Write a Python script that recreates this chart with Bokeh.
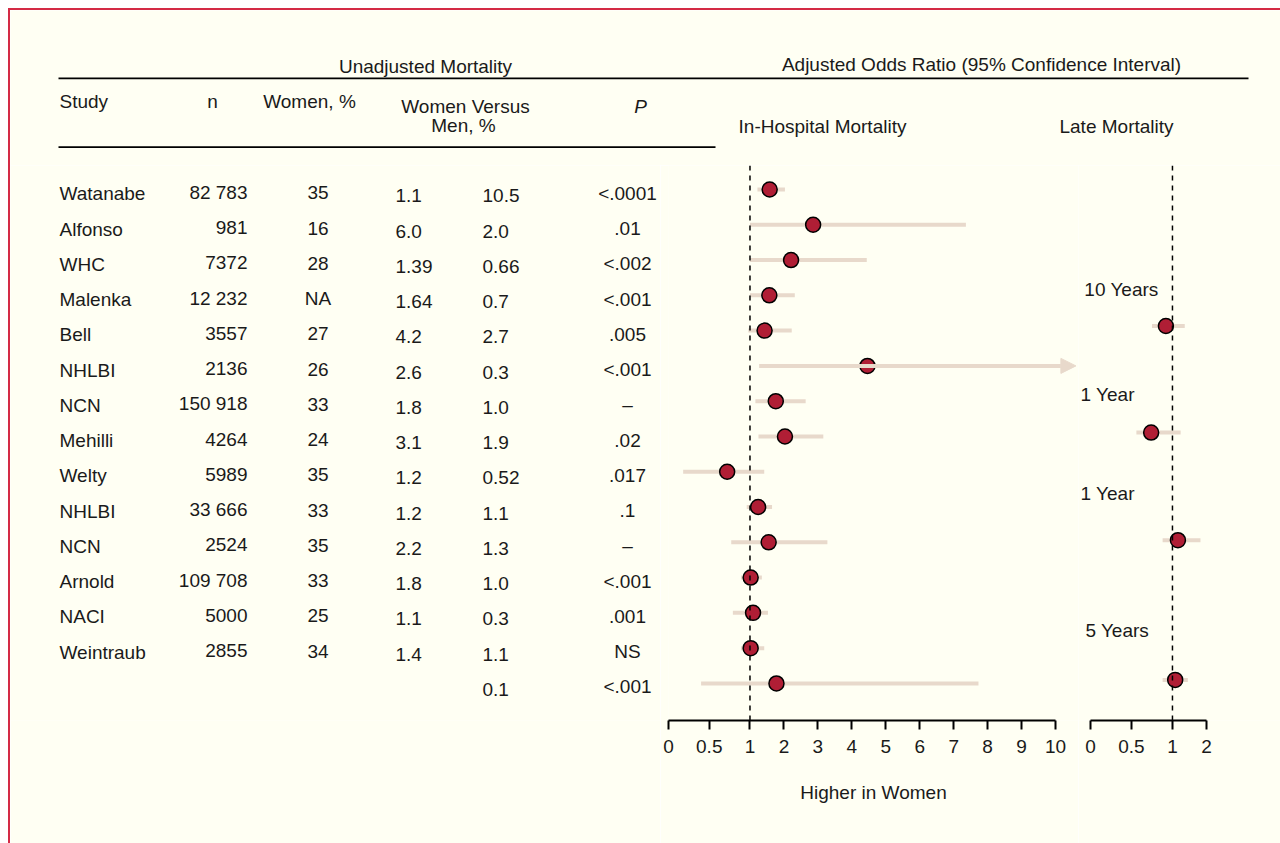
from bokeh.plotting import figure
from bokeh.layouts import column, row
from bokeh.models import (Range1d, LinearAxis, FixedTicker, Span, Arrow,
                          NormalHead, ColumnDataSource, Div)
from bokeh.core.properties import value
from bokeh.embed import file_html
from bokeh.resources import INLINE

# ---------------- data ----------------
studies = ["Watanabe", "Alfonso", "WHC", "Malenka", "Bell", "NHLBI", "NCN",
           "Mehilli", "Welty", "NHLBI", "NCN", "Arnold", "NACI", "Weintraub", ""]
n_pts = ["82 783", "981", "7372", "12 232", "3557", "2136", "150 918", "4264",
         "5989", "33 666", "2524", "109 708", "5000", "2855", ""]
women_pct = ["35", "16", "28", "NA", "27", "26", "33", "24", "35", "33", "35",
             "33", "25", "34", ""]
mort_women = ["1.1", "6.0", "1.39", "1.64", "4.2", "2.6", "1.8", "3.1", "1.2",
              "1.2", "2.2", "1.8", "1.1", "1.4", ""]
mort_men = ["10.5", "2.0", "0.66", "0.7", "2.7", "0.3", "1.0", "1.9", "0.52",
            "1.1", "1.3", "1.0", "0.3", "1.1", "0.1"]
p_values = ["<.0001", ".01", "<.002", "<.001", ".005", "<.001", "\u2013", ".02",
            ".017", ".1", "\u2013", "<.001", ".001", "NS", "<.001"]

hosp_or = [1.58, 2.86, 2.21, 1.57, 1.43, 4.46, 1.76, 2.03, 0.72, 1.24, 1.55,
           1.02, 1.09, 1.02, 1.78]
hosp_lo = [1.22, 1.0, 1.0, 1.0, 0.98, 1.27, 1.16, 1.25, 0.18, 0.96, 0.77,
           0.89, 0.79, 0.89, 0.40]
hosp_hi = [2.03, 7.36, 4.44, 2.32, 2.23, 10.6, 2.64, 3.16, 1.42, 1.65, 3.28,
           1.35, 1.53, 1.42, 7.73]
hosp_off_scale = [False, False, False, False, False, True, False, False, False,
                  False, False, False, False, False, False]

late_labels = ["10 Years", "1 Year", "1 Year", "5 Years"]
late_or = [0.92, 0.74, 1.16, 1.08]
late_lo = [0.75, 0.56, 0.88, 0.88]
late_hi = [1.36, 1.24, 1.82, 1.45]
late_row = [3.87, 6.89, 9.94, 13.9]

hosp_ticks = [0, 0.5, 1, 2, 3, 4, 5, 6, 7, 8, 9, 10]
late_ticks = [0, 0.5, 1, 2]

# ---------------- style / layout ----------------
BG = "#fffff3"
BORDER = "#d42a45"
DOT = "#b01e35"
CI = "#e8d9cb"
INK = "#1a1a1a"
FONT = "Liberation Sans"
FS = "19px"

ROW0, ROW_PX = 189.0, 35.28          # page y of first row, row pitch
TOP, AXIS_Y, BOTTOM = 165, 720, 843  # page y
X0, X_TBL, X_HOSP, X_END = 10, 660, 1078, 1280
PX_U_H, PX_U_L = 33.95, 34.15        # pixels per scale unit


def pw(x):
    """piecewise scale: 0-1 expanded, >1 linear"""
    return 2.4 * x if x <= 1 else 2.4 + (x - 1)


def base_fig(w, h, xr, yr, **kw):
    p = figure(width=w, height=h, x_range=xr, y_range=yr,
               output_backend="svg", toolbar_location=None,
               x_axis_type=None, y_axis_type=None, **kw)
    p.outline_line_color = None
    p.background_fill_color = BG
    p.border_fill_color = BG
    return p


def txt(p, xs, ys, texts, align="left", style="normal"):
    p.text(x=xs, y=ys, text=texts, text_align=align, text_baseline="middle",
           text_font=value(FONT), text_font_size=FS, text_font_style=style,
           text_color=INK)


# ---------------- header ----------------
hdr = base_fig(X_END - X0, TOP - X0, Range1d(X0, X_END), Range1d(TOP, X0),
               min_border=0)
hdr.segment(x0=[58, 58], y0=[77.8, 146.7], x1=[1248, 715], y1=[77.8, 146.7],
            line_color="black", line_width=1.7)
txt(hdr, [425], [66], ["Unadjusted Mortality"], "center")
txt(hdr, [981], [64], ["Adjusted Odds Ratio (95% Confidence Interval)"], "center")
txt(hdr, [59], [101], ["Study"])
txt(hdr, [212, 309, 465, 463], [101, 101, 105.5, 125],
    ["n", "Women, %", "Women Versus", "Men, %"], "center")
txt(hdr, [640], [105.5], ["P"], "center", style="italic")
txt(hdr, [822, 1116], [125.5, 125.5], ["In-Hospital Mortality", "Late Mortality"],
    "center")

# ---------------- table ----------------
tbl = base_fig(X_TBL - X0, BOTTOM - TOP, Range1d(X0, X_TBL), Range1d(AXIS_Y, TOP),
               min_border_left=0, min_border_right=0, min_border_top=0,
               min_border_bottom=BOTTOM - AXIS_Y)
centre = [193.3 + 35.25 * i for i in range(len(studies))]
txt(tbl, [59] * len(studies), centre, studies)
txt(tbl, [247] * len(studies), [c - 1.5 for c in centre], n_pts, "right")
txt(tbl, [317.5] * len(studies), [c - 1 for c in centre], women_pct, "center")
txt(tbl, [395] * len(studies), [c + 2 for c in centre], mort_women)
txt(tbl, [482] * len(studies), [c + 2 for c in centre], mort_men)
txt(tbl, [627] * len(studies), [c - 0.5 for c in centre], p_values, "center")

# ---------------- forest helpers ----------------
y_rows = Range1d((AXIS_Y - ROW0) / ROW_PX, (TOP - ROW0) / ROW_PX)


def style_axis(ax, label=None):
    ax.axis_line_width = 2
    ax.axis_line_color = "black"
    ax.major_tick_line_width = 2
    ax.major_tick_in = 0
    ax.major_tick_out = 9
    ax.minor_tick_in = 0
    ax.minor_tick_out = 0
    ax.major_label_text_font = FONT
    ax.major_label_text_font_size = FS
    ax.major_label_text_color = INK
    ax.major_label_standoff = 10
    if label:
        ax.axis_label = label
        ax.axis_label_text_font = FONT
        ax.axis_label_text_font_size = FS
        ax.axis_label_text_font_style = "normal"
        ax.axis_label_text_color = INK
        ax.axis_label_standoff = 26


# ---------------- in-hospital forest ----------------
HW = X_HOSP - X_TBL
hosp = base_fig(HW, BOTTOM - TOP, Range1d(0, (HW - 8) / PX_U_H), y_rows,
                min_border_left=8, min_border_right=0, min_border_top=0,
                min_border_bottom=BOTTOM - AXIS_Y)
hosp.add_layout(Span(location=pw(1), dimension="height", line_color="black",
                     line_width=1.5, line_dash="5 5"))
rows_idx = list(range(len(studies)))
seg = ColumnDataSource(dict(
    x0=[pw(v) for v, o in zip(hosp_lo, hosp_off_scale) if not o],
    x1=[pw(v) for v, o in zip(hosp_hi, hosp_off_scale) if not o],
    y=[r for r, o in zip(rows_idx, hosp_off_scale) if not o]))
hosp.segment(x0="x0", y0="y", x1="x1", y1="y", source=seg,
             line_color=CI, line_width=4)
arr = ColumnDataSource(dict(
    x0=[pw(v) for v, o in zip(hosp_lo, hosp_off_scale) if o],
    x1=[pw(v) for v, o in zip(hosp_hi, hosp_off_scale) if o],
    y=[r for r, o in zip(rows_idx, hosp_off_scale) if o]))
hosp.add_layout(Arrow(x_start="x0", y_start="y", x_end="x1", y_end="y", source=arr,
                      line_color=CI, line_width=4,
                      end=NormalHead(size=15, fill_color=CI, line_color=CI)))
pts = ColumnDataSource(dict(x=[pw(v) for v in hosp_or], y=rows_idx))
hosp.scatter(x="x", y="y", source=pts, size=15, fill_color=DOT,
             line_color="black", line_width=1.5)
hax = LinearAxis(ticker=FixedTicker(ticks=[pw(t) for t in hosp_ticks]),
                 major_label_overrides={pw(t): str(t) for t in hosp_ticks},
                 bounds=(0, pw(10)))
style_axis(hax, "Higher in Women")
hosp.add_layout(hax, "below")

# ---------------- late forest ----------------
LW = X_END - X_HOSP
lx0 = (X_HOSP - 1090) / PX_U_L
late = base_fig(LW, BOTTOM - TOP, Range1d(lx0, lx0 + LW / PX_U_L), y_rows,
                min_border_left=0, min_border_right=0, min_border_top=0,
                min_border_bottom=BOTTOM - AXIS_Y)
late.add_layout(Span(location=pw(1), dimension="height", line_color="black",
                     line_width=1.5, line_dash="5 5"))
late.segment(x0=[pw(v) for v in late_lo], y0=late_row,
             x1=[pw(v) for v in late_hi], y1=late_row,
             line_color=CI, line_width=4)
late.scatter(x=[pw(v) for v in late_or], y=late_row, size=15, fill_color=DOT,
             line_color="black", line_width=1.5)
LABEL_X = [-0.18, -0.29, -0.29, -0.15]        # label positions (scale units)
LABEL_ROW = [2.84, 5.82, 8.61, 12.51]
txt(late, LABEL_X, LABEL_ROW, late_labels)
lax = LinearAxis(ticker=FixedTicker(ticks=[pw(t) for t in late_ticks]),
                 major_label_overrides={pw(t): str(t) for t in late_ticks},
                 bounds=(0, pw(2)))
style_axis(lax)
late.add_layout(lax, "below")

# ---------------- frame borders (top / left rules) ----------------
top_rule = Div(text="", width=X_END - 8, height=2, margin=(0, 0, 0, 0),
               styles={"background-color": BORDER})
left_rule = Div(text="", width=2, height=BOTTOM - X0, margin=(0, 0, 0, 0),
                styles={"background-color": BORDER})

body = column(hdr, row(tbl, hosp, late, spacing=0), spacing=0)
layout = column(top_rule, row(left_rule, body, spacing=0), spacing=0,
                margin=(8, 0, 0, 8))
open("out.html", "w").write(file_html(layout, INLINE))
